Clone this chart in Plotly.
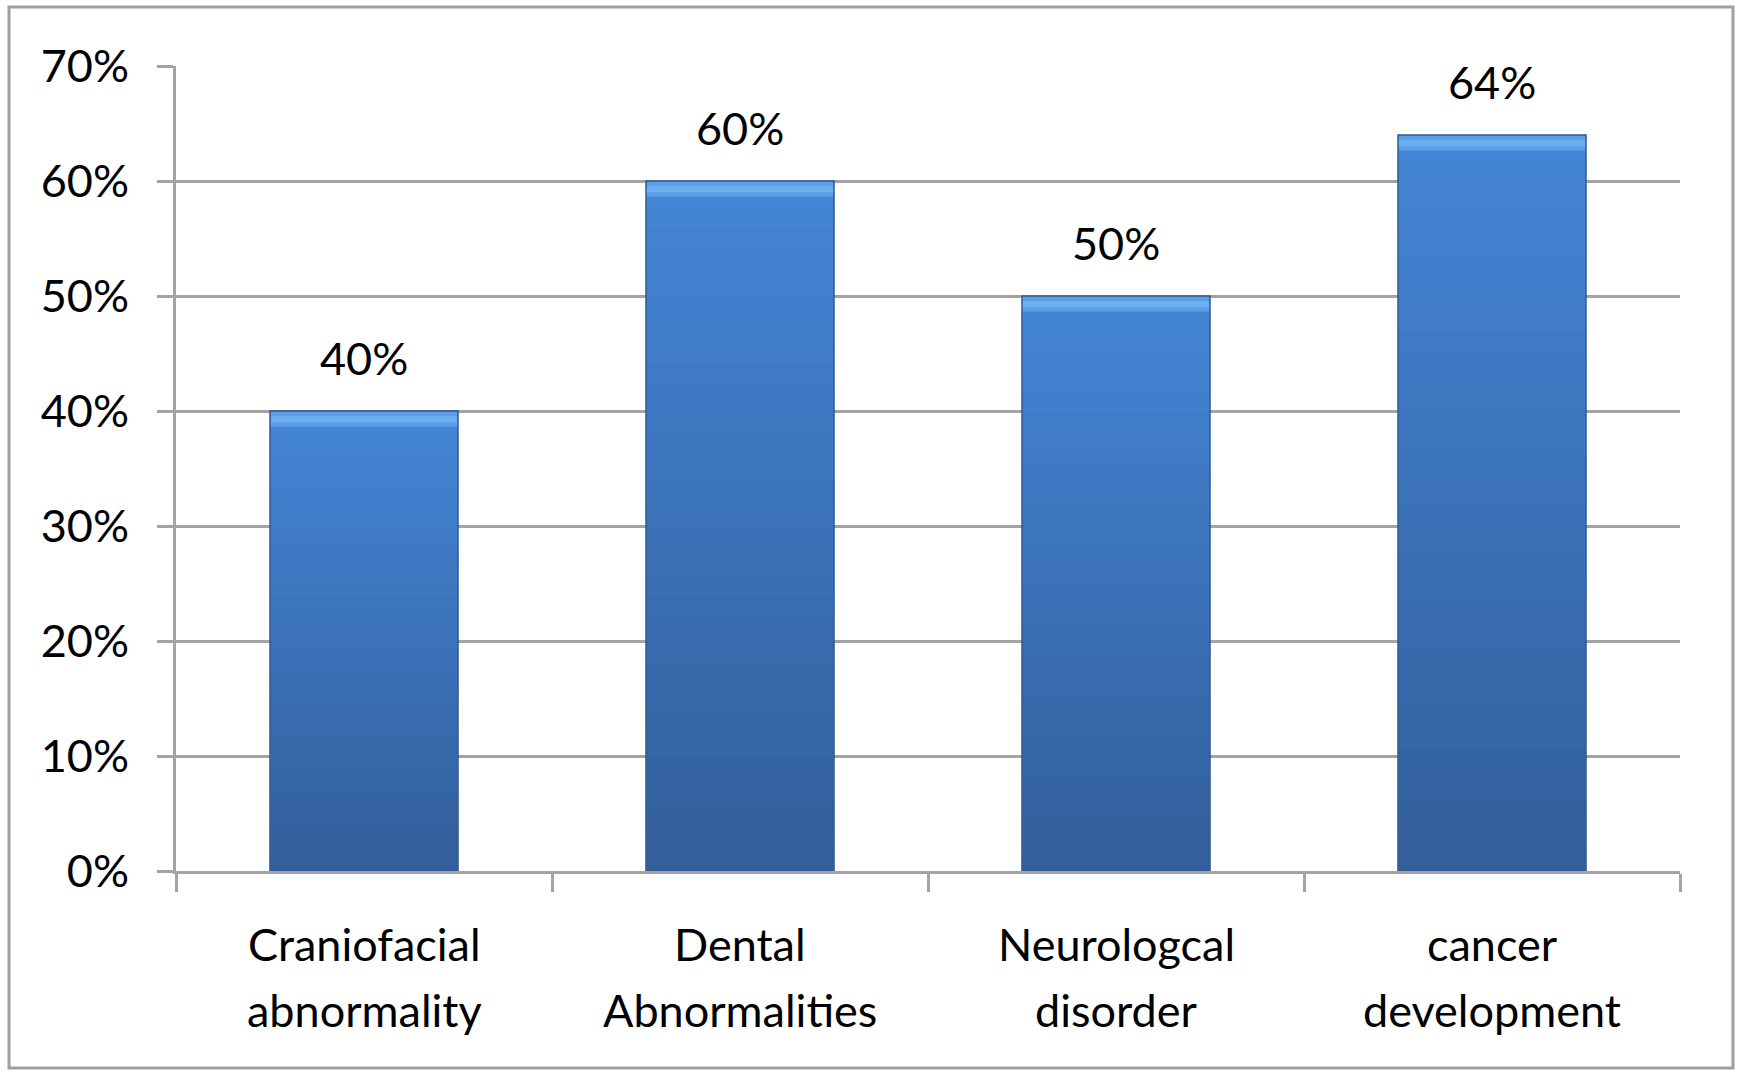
import plotly.graph_objects as go

# Chart data
categories = ["Craniofacial<br>abnormality", "Dental<br>Abnormalities",
              "Neurologcal<br>disorder", "cancer<br>development"]
values = [40, 60, 50, 64]
value_labels = ["40%", "60%", "50%", "64%"]
y_ticks = [0, 10, 20, 30, 40, 50, 60, 70]
y_tick_labels = ["0%", "10%", "20%", "30%", "40%", "50%", "60%", "70%"]

W, H = 1742, 1072
ML, MR, MT, MB = 176, 62, 66, 201
FONT = "Lato, 'Open Sans', sans-serif"
GRID = "#A3A3A3"
TEXT_FONT = dict(family=FONT, size=45, color="#000000")


def mix(c1, c2, t):
    return "#%02x%02x%02x" % tuple(round(a + (b - a) * t) for a, b in zip(c1, c2))


fig = go.Figure()

# Vertical gradient: overlapping layers, each reaching the bar top, lighter upwards
N = 30
bottom_rgb, top_rgb = (0x33, 0x5F, 0x9B), (0x44, 0x85, 0xD5)
for i in range(N):
    fig.add_trace(go.Bar(
        x=categories,
        y=[v * (N - i) / N for v in values],
        base=[v * i / N for v in values],
        marker=dict(color=mix(bottom_rgb, top_rgb, i / (N - 1)), line=dict(width=0)),
        hoverinfo="skip", showlegend=False,
    ))

# Bevelled highlight along the top edge of each bar
bevel_steps = [(1.35, "#5F9FE6"), (0.95, "#6BB0F2"), (0.45, "#5D9EE4")]
for depth, col in bevel_steps:
    fig.add_trace(go.Bar(
        x=categories,
        y=[depth] * len(values),
        base=[v - depth for v in values],
        marker=dict(color=col, line=dict(width=0)),
        hoverinfo="skip", showlegend=False,
    ))

# Dark outline around each bar
fig.add_trace(go.Bar(
    x=categories, y=values,
    marker=dict(color="rgba(0,0,0,0)", line=dict(color="#2C5A94", width=1.5)),
    showlegend=False,
))

# Value labels above bars
for c, v, t in zip(categories, values, value_labels):
    fig.add_annotation(x=c, y=v, text=t, showarrow=False, yanchor="bottom",
                       yshift=24, font=TEXT_FONT)

# Two-line category labels under the axis
for c in categories:
    for j, line in enumerate(c.split("<br>")):
        fig.add_annotation(x=c, y=0, text=line, showarrow=False, yanchor="top",
                           yshift=-44 - 66 * j, font=TEXT_FONT)

# Outer chart border
pw, ph = W - ML - MR, H - MT - MB
fig.add_shape(type="rect", xref="paper", yref="paper",
              x0=(9 - ML) / pw, x1=(1733 - ML) / pw,
              y0=(H - MB - 1068) / ph, y1=(H - MB - 7) / ph,
              line=dict(color="#A0A0A0", width=3), fillcolor="rgba(0,0,0,0)",
              layer="below")

fig.update_layout(
    width=W, height=H,
    margin=dict(l=ML, r=MR, t=MT, b=MB, pad=0),
    paper_bgcolor="white", plot_bgcolor="white",
    barmode="overlay", bargap=0.5,
    font=TEXT_FONT,
    showlegend=False,
)
fig.update_yaxes(
    range=[0, 70], tickvals=y_ticks, ticktext=y_tick_labels,
    showgrid=True, gridcolor=GRID, gridwidth=3,
    showline=True, linecolor=GRID, linewidth=3,
    ticks="outside", ticklen=16, tickwidth=3, tickcolor=GRID,
    ticklabelstandoff=19, zeroline=False,
    tickfont=TEXT_FONT,
)
fig.update_xaxes(
    showgrid=False, showline=True, linecolor=GRID, linewidth=3,
    ticks="outside", tickson="boundaries", ticklen=18, tickwidth=3, tickcolor=GRID,
    showticklabels=False,
)

fig.write_html("out.html")
